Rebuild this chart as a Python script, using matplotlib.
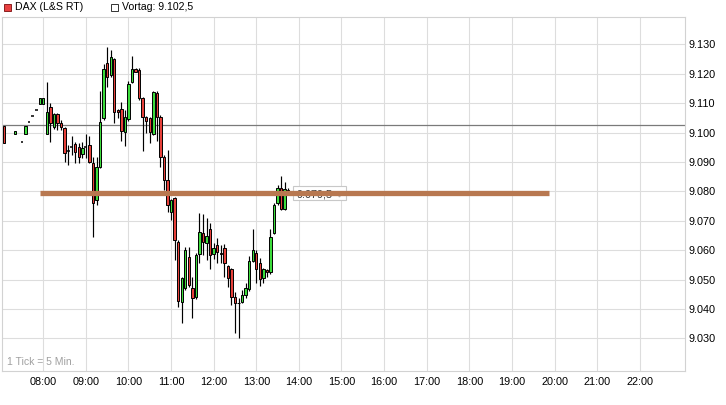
import matplotlib
matplotlib.use("Agg")
import matplotlib.pyplot as plt
from matplotlib.patches import Rectangle

# ---------------- data ----------------
times = ["07:05", "07:20", "07:30", "07:35", "07:40", "07:45", "07:50", "07:55",
         "08:00", "08:05", "08:10", "08:15", "08:20", "08:25", "08:30", "08:35",
         "08:40", "08:45", "08:50", "08:55", "09:00", "09:05", "09:10", "09:15",
         "09:20", "09:25", "09:30", "09:35", "09:40", "09:45", "09:50", "09:55",
         "10:00", "10:05", "10:10", "10:15", "10:20", "10:25", "10:30", "10:35",
         "10:40", "10:45", "10:50", "10:55", "11:00", "11:05", "11:10", "11:15",
         "11:20", "11:25", "11:30", "11:35", "11:40", "11:45", "11:50", "11:55",
         "12:00", "12:05", "12:10", "12:15", "12:20", "12:25", "12:30", "12:35",
         "12:40", "12:45", "12:50", "12:55", "13:00", "13:05", "13:10", "13:15",
         "13:20", "13:25", "13:30", "13:35", "13:40", "13:45"]
opens = [9102.3, 9099.4, 9096.7, 9099.4, 9103.5, 9105.5, 9107.6, 9109.7,
         9109.7, 9099.4, 9108.6, 9102.0, 9106.2, 9103.1, 9101.4, 9093.8,
         9095.0, 9096.0, 9095.0, 9092.6, 9095.0, 9095.7, 9089.5, 9077.0,
         9088.2, 9104.9, 9123.5, 9119.6, 9124.9, 9107.7, 9107.9, 9100.2,
         9104.6, 9117.3, 9121.6, 9121.3, 9111.6, 9105.2, 9104.8, 9099.5,
         9113.3, 9105.4, 9091.8, 9083.8, 9073.1, 9077.6, 9062.9, 9042.4,
         9047.1, 9057.7, 9047.0, 9043.9, 9058.8, 9065.8, 9062.5, 9067.1,
         9058.8, 9061.7, 9058.9, 9060.6, 9054.6, 9053.5, 9043.9, 9042.0,
         9042.4, 9044.7, 9046.7, 9056.4, 9058.9, 9055.5, 9050.4, 9053.2,
         9052.6, 9065.9, 9075.9, 9081.3, 9074.0, 9080.5]
highs = [9102.3, 9100.5, 9096.7, 9102.3, 9103.5, 9105.5, 9107.6, 9111.6,
         9111.6, 9117.1, 9110.0, 9106.7, 9106.5, 9104.3, 9102.0, 9095.7,
         9098.8, 9096.9, 9096.3, 9096.9, 9099.4, 9098.8, 9091.8, 9091.8,
         9114.1, 9123.3, 9129.2, 9128.1, 9125.5, 9108.0, 9110.5, 9107.7,
         9117.5, 9125.9, 9122.0, 9121.8, 9112.2, 9105.5, 9105.2, 9114.1,
         9114.2, 9106.0, 9092.5, 9094.0, 9077.5, 9078.0, 9063.5, 9051.0,
         9061.0, 9061.2, 9051.0, 9059.0, 9072.5, 9072.2, 9070.8, 9069.1,
         9062.4, 9064.0, 9061.7, 9062.2, 9055.0, 9054.0, 9045.9, 9043.7,
         9046.4, 9048.7, 9058.0, 9067.2, 9060.0, 9057.5, 9054.0, 9053.5,
         9067.1, 9076.0, 9082.1, 9085.2, 9083.2, 9081.0]
lows = [9096.5, 9099.4, 9096.7, 9099.4, 9103.5, 9105.5, 9107.6, 9109.7,
        9109.7, 9099.4, 9096.9, 9101.2, 9100.9, 9100.9, 9090.1, 9088.9,
        9092.3, 9089.5, 9089.5, 9091.2, 9091.2, 9089.5, 9064.6, 9075.3,
        9088.0, 9104.3, 9115.6, 9119.0, 9103.2, 9105.0, 9097.1, 9095.4,
        9104.0, 9117.0, 9120.5, 9111.0, 9093.8, 9100.0, 9096.3, 9099.0,
        9097.0, 9088.4, 9080.4, 9073.1, 9070.2, 9056.6, 9040.7, 9035.1,
        9046.4, 9047.5, 9036.8, 9043.5, 9055.5, 9058.3, 9056.6, 9053.6,
        9057.0, 9055.5, 9055.6, 9050.8, 9047.6, 9041.3, 9031.7, 9030.0,
        9042.0, 9043.8, 9046.0, 9056.0, 9048.7, 9047.8, 9049.0, 9051.0,
        9052.0, 9065.5, 9075.5, 9073.5, 9073.6, 9079.5]
closes = [9096.5, 9100.5, 9096.7, 9102.3, 9103.5, 9105.5, 9107.6, 9111.6,
          9111.6, 9107.0, 9103.1, 9106.4, 9103.3, 9102.0, 9092.9, 9093.8,
          9095.0, 9093.5, 9091.8, 9094.8, 9095.0, 9090.1, 9075.9, 9088.4,
          9103.5, 9121.5, 9118.8, 9125.6, 9107.1, 9107.1, 9100.5, 9105.2,
          9116.5, 9121.5, 9120.7, 9111.6, 9105.2, 9104.0, 9100.3, 9113.7,
          9105.3, 9091.8, 9083.8, 9075.5, 9077.0, 9063.4, 9042.8, 9050.4,
          9060.0, 9048.0, 9043.6, 9058.2, 9066.2, 9062.9, 9064.8, 9058.5,
          9060.6, 9059.5, 9058.8, 9055.5, 9050.4, 9043.9, 9041.9, 9041.9,
          9044.7, 9047.0, 9056.4, 9060.0, 9053.5, 9050.2, 9053.5, 9052.7,
          9064.6, 9075.5, 9081.3, 9074.0, 9080.8, 9079.5]

prev_close = 9102.5
last_price = 9079.5
level_start, level_end = "07:56", "19:52"
hour_labels = ["08:00", "09:00", "10:00", "11:00", "12:00", "13:00", "14:00",
               "15:00", "16:00", "17:00", "18:00", "19:00", "20:00", "21:00", "22:00"]
price_ticks = [9030, 9040, 9050, 9060, 9070, 9080, 9090, 9100, 9110, 9120, 9130]


def fmt_de(v, dec=0):
    s = f"{v:,.{dec}f}"
    return s.replace(",", "X").replace(".", ",").replace("X", ".")


def tmin(s):
    h, m = s.split(":")
    return int(h) * 60 + int(m)


# ---------------- figure ----------------
W, H = 726, 405
plt.rcParams['font.family'] = ['Liberation Sans', 'DejaVu Sans']
fig = plt.figure(figsize=(W / 100, H / 100), dpi=100)
fig.patch.set_facecolor("white")

left, right, top, bottom = 2.3, 684.6, 17.3, 371.0
ax = fig.add_axes([left / W, 1 - bottom / H, (right - left) / W, (bottom - top) / H])
ax.set_xlim(422.3, 1383.2)
ax.set_ylim(9018.9, 9139.2)

grid_c = "#DDDDDD"
for sp in ax.spines.values():
    sp.set_color("#D2D2D2")
    sp.set_linewidth(0.8)

hx = [tmin(h) for h in hour_labels]
ax.set_xticks(hx)
ax.set_xticklabels(hour_labels, fontsize=7.8)
ax.set_yticks(price_ticks)
ax.set_yticklabels([fmt_de(v, 0) for v in price_ticks], fontsize=7.8)
ax.yaxis.tick_right()
ax.tick_params(axis="both", length=0, colors="black")
ax.tick_params(axis="x", pad=4.0)
ax.tick_params(axis="y", pad=2.5)
ax.grid(True, color=grid_c, linewidth=0.8, zorder=0)
ax.set_axisbelow(True)

# previous-day close line
ax.axhline(prev_close, color="#7A7A7A", linewidth=0.9, zorder=1)

# candles
x = [tmin(t) for t in times]
red, green = "#E6403A", "#3CDC3C"
bw = 3.4
ax.vlines(x, lows, highs, color="black", linewidth=0.85, zorder=2)
for xi, o, c in zip(x, opens, closes):
    if abs(c - o) < 0.05:
        ax.hlines(o, xi - bw / 2 - 0.3, xi + bw / 2 + 0.3, color="black", linewidth=1.1, zorder=3)
    else:
        col = green if c > o else red
        ax.bar(xi, abs(c - o), bottom=min(o, c), width=bw, color=col,
               edgecolor="black", linewidth=0.7, zorder=3)

# last-price label box
bx0 = tmin("13:51")
ax.add_patch(Rectangle((bx0, 9077.2), 76, 4.6, facecolor="white",
                       edgecolor="#C8C8C8", linewidth=0.8, zorder=4))
ax.text(bx0 + 5.5, 9078.9, fmt_de(last_price, 1), fontsize=7.8, color="#333333",
        ha="left", va="center", zorder=5)
ax.plot([bx0 + 66], [9079.0], marker="v", markersize=3.5, color="#B0B0B0",
        linestyle="none", zorder=5)

# level line
ax.hlines(last_price, tmin(level_start), tmin(level_end), color="#B87850",
          linewidth=3.8, zorder=6)

# "1 Tick = 5 Min." note
fig.text(7 / W, 1 - 362 / H, "1 Tick = 5 Min.", fontsize=7.5, color="#A0A0A0",
         ha="left", va="center")

# legend
fig.add_artist(Rectangle((4 / W, 1 - 10.5 / H), 7 / W, 7 / H, transform=fig.transFigure,
                         facecolor="#E84040", edgecolor="#8A2020", linewidth=0.7))
fig.text(15 / W, 1 - 7.3 / H, "DAX (L&S RT)", fontsize=7.6, color="black",
         ha="left", va="center")
fig.add_artist(Rectangle((110.5 / W, 1 - 10.5 / H), 7 / W, 7 / H, transform=fig.transFigure,
                         facecolor="white", edgecolor="#333333", linewidth=0.7))
fig.text(122 / W, 1 - 7.3 / H, "Vortag: " + fmt_de(prev_close, 1), fontsize=7.6,
         color="black", ha="left", va="center")

fig.savefig("out.png", dpi=100)
